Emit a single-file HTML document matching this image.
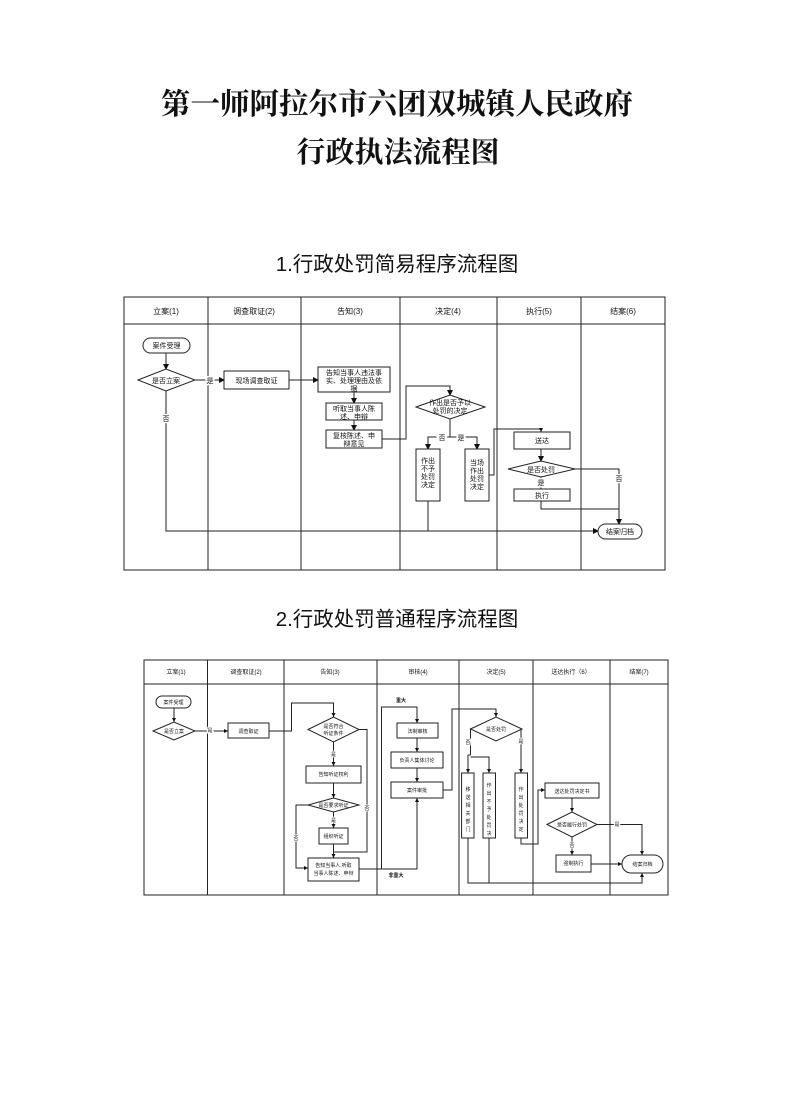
<!DOCTYPE html>
<html><head><meta charset="utf-8"><style>
html,body{margin:0;padding:0;background:#fff;}
svg{display:block;}
text{font-family:"Liberation Sans","Noto Sans CJK SC",sans-serif;fill:#111;}
.t{font-family:"Liberation Serif","Noto Serif CJK SC",serif;font-weight:bold;}
.l{stroke:#222;stroke-width:1;fill:none;}
.b{stroke:#222;stroke-width:1;fill:#fff;}
</style></head><body>
<svg width="794" height="1108" viewBox="0 0 794 1108" xmlns="http://www.w3.org/2000/svg">
<defs>
<marker id="a" markerWidth="6" markerHeight="6" refX="5" refY="3" orient="auto" markerUnits="userSpaceOnUse"><path d="M0,0 L6,3 L0,6 z" fill="#111"/></marker>
<marker id="s" markerWidth="4" markerHeight="4" refX="4" refY="2" orient="auto" markerUnits="userSpaceOnUse"><path d="M0,0 L4,2 L0,4 z" fill="#111"/></marker>
</defs>
<text class="t" x="397" y="114" font-size="29.5" text-anchor="middle">第一师阿拉尔市六团双城镇人民政府</text>
<text class="t" x="398" y="162" font-size="29" text-anchor="middle">行政执法流程图</text>
<text x="397" y="271" font-size="20.5" text-anchor="middle">1.行政处罚简易程序流程图</text>
<text x="397" y="626" font-size="20.5" text-anchor="middle">2.行政处罚普通程序流程图</text>

<!-- Diagram 1 -->
<g font-size="8">
<rect class="l" x="124" y="297" width="541" height="273" stroke-width="1.2"/>
<line class="l" x1="124" y1="324" x2="665" y2="324"/>
<line class="l" x1="208" y1="297" x2="208" y2="570"/>
<line class="l" x1="301" y1="297" x2="301" y2="570"/>
<line class="l" x1="400" y1="297" x2="400" y2="570"/>
<line class="l" x1="497" y1="297" x2="497" y2="570"/>
<line class="l" x1="581" y1="297" x2="581" y2="570"/>
<g text-anchor="middle">
<text x="166" y="314">立案(1)</text><text x="254" y="314">调查取证(2)</text><text x="350" y="314">告知(3)</text>
<text x="448" y="314">决定(4)</text><text x="539" y="314">执行(5)</text><text x="623" y="314">结案(6)</text>
</g>
<rect class="b" x="143" y="338" width="47" height="15" rx="7.5"/><text x="166.5" y="348" text-anchor="middle" font-size="7">案件受理</text>
<line class="l" x1="166" y1="353" x2="166" y2="369" marker-end="url(#a)"/>
<polygon class="b" points="138,380 166,369 195,380 166,391"/><text x="166" y="383" text-anchor="middle" font-size="7">是否立案</text>
<line class="l" x1="195" y1="380" x2="224" y2="380" marker-end="url(#a)"/><text x="210" y="383" text-anchor="middle" font-size="7" style="paint-order:stroke" stroke="#fff" stroke-width="3">是</text>
<rect class="b" x="224" y="371" width="65" height="18"/><text x="256.5" y="383" text-anchor="middle" font-size="7">现场调查取证</text>
<line class="l" x1="289" y1="380" x2="318" y2="380" marker-end="url(#a)"/>
<rect class="b" x="318" y="367" width="72" height="25"/>
<text x="354" y="375" text-anchor="middle" font-size="7">告知当事人违法事</text><text x="354" y="383" text-anchor="middle" font-size="7">实、处理理由及依</text><text x="354" y="391" text-anchor="middle" font-size="7">据</text>
<line class="l" x1="354" y1="392" x2="354" y2="403" marker-end="url(#a)"/>
<rect class="b" x="326" y="403" width="56" height="17"/><text x="354" y="411" text-anchor="middle" font-size="7">听取当事人陈</text><text x="354" y="419" text-anchor="middle" font-size="7">述、申辩</text>
<line class="l" x1="354" y1="420" x2="354" y2="430" marker-end="url(#a)"/>
<rect class="b" x="326" y="430" width="56" height="18"/><text x="354" y="438" text-anchor="middle" font-size="7">复核陈述、申</text><text x="354" y="446" text-anchor="middle" font-size="7">辩意见</text>
<polyline class="l" points="382,439 406,439 406,386 450,386 450,395" marker-end="url(#a)"/>
<polygon class="b" points="416,407 450,395 485,407 450,419"/><text x="450" y="405" text-anchor="middle" font-size="7">作出是否予以</text><text x="450" y="413" text-anchor="middle" font-size="7">处罚的决定</text>
<line class="l" x1="450" y1="419" x2="450" y2="437"/>
<polyline class="l" points="450,437 428,437 428,449" marker-end="url(#a)"/>
<polyline class="l" points="450,437 477,437 477,449" marker-end="url(#a)"/>
<text x="442" y="440" text-anchor="middle" font-size="7" style="paint-order:stroke" stroke="#fff" stroke-width="3">否</text>
<text x="461" y="440" text-anchor="middle" font-size="7" style="paint-order:stroke" stroke="#fff" stroke-width="3">是</text>
<rect class="b" x="416" y="449" width="24" height="52"/>
<g text-anchor="middle" font-size="7"><text x="428" y="463">作出</text><text x="428" y="471">不予</text><text x="428" y="479">处罚</text><text x="428" y="487">决定</text></g>
<rect class="b" x="465" y="449" width="24" height="52"/>
<g text-anchor="middle" font-size="7"><text x="477" y="465">当场</text><text x="477" y="473">作出</text><text x="477" y="481">处罚</text><text x="477" y="489">决定</text></g>
<polyline class="l" points="489,475 494,475 494,429 541,429 541,432" marker-end="url(#s)"/>
<rect class="b" x="514" y="432" width="56" height="17"/><text x="542" y="443" text-anchor="middle" font-size="7">送达</text>
<line class="l" x1="541" y1="449" x2="541" y2="461" marker-end="url(#a)"/>
<polygon class="b" points="508,469 541,461 575,469 541,477"/><text x="541" y="472" text-anchor="middle" font-size="7">是否处罚</text>
<line class="l" x1="541" y1="477" x2="541" y2="489"/><text x="541" y="485" text-anchor="middle" font-size="7" style="paint-order:stroke" stroke="#fff" stroke-width="3">是</text>
<rect class="b" x="514" y="489" width="56" height="12"/><text x="542" y="498" text-anchor="middle" font-size="7">执行</text>
<polyline class="l" points="575,469 619,469 619,524" marker-end="url(#a)"/><text x="619" y="481" text-anchor="middle" font-size="7" style="paint-order:stroke" stroke="#fff" stroke-width="3">否</text>
<polyline class="l" points="541,501 541,509 619,509"/>
<polyline class="l" points="166,391 166,531 598,531" marker-end="url(#a)"/><text x="166" y="421" text-anchor="middle" font-size="7" style="paint-order:stroke" stroke="#fff" stroke-width="3">否</text>
<line class="l" x1="428" y1="501" x2="428" y2="531"/>
<rect class="b" x="598" y="524" width="44" height="15" rx="7.5"/><text x="620" y="534" text-anchor="middle" font-size="7">结案归档</text>
</g>

<!-- Diagram 2 -->
<g font-size="5">
<rect class="l" x="144" y="660" width="524" height="235" stroke-width="1.2"/>
<line class="l" x1="144" y1="684" x2="668" y2="684"/>
<line class="l" x1="207.5" y1="660" x2="207.5" y2="895"/>
<line class="l" x1="284" y1="660" x2="284" y2="895"/>
<line class="l" x1="377" y1="660" x2="377" y2="895"/>
<line class="l" x1="459" y1="660" x2="459" y2="895"/>
<line class="l" x1="533" y1="660" x2="533" y2="895"/>
<line class="l" x1="610" y1="660" x2="610" y2="895"/>
<g text-anchor="middle" font-size="6">
<text x="176" y="674">立案(1)</text><text x="246" y="674">调查取证(2)</text><text x="330" y="674">告知(3)</text>
<text x="418" y="674">审核(4)</text><text x="496" y="674">决定(5)</text><text x="571" y="674">送达执行（6）</text><text x="639" y="674">结案(7)</text>
</g>
<g text-anchor="middle">
<rect class="b" x="156" y="696" width="35" height="12" rx="6"/><text x="173.5" y="704">案件受理</text>
<line class="l" x1="174" y1="708" x2="174" y2="722" marker-end="url(#s)"/>
<polygon class="b" points="153,731 174,722 195,731 174,740"/><text x="174" y="733">是否立案</text>
<line class="l" x1="195" y1="731" x2="228" y2="731" marker-end="url(#s)"/><text x="210" y="732" style="paint-order:stroke" stroke="#fff" stroke-width="2">是</text>
<rect class="b" x="228" y="723" width="41" height="15"/><text x="248.5" y="733">调查取证</text>
<polyline class="l" points="269,731 291.5,731 291.5,703 333.5,703 333.5,717" marker-end="url(#s)"/>
<polygon class="b" points="308,729.5 333.5,717 359,729.5 333.5,742"/><text x="333.5" y="728">是否符合</text><text x="333.5" y="735">听证条件</text>
<line class="l" x1="333.5" y1="742" x2="333.5" y2="766" marker-end="url(#s)"/><text x="333.5" y="756" style="paint-order:stroke" stroke="#fff" stroke-width="2">是</text>
<rect class="b" x="306" y="766" width="55" height="17"/><text x="333.5" y="776">告知听证权利</text>
<line class="l" x1="333.5" y1="783" x2="333.5" y2="798" marker-end="url(#s)"/>
<polygon class="b" points="308,805 333.5,798 359,805 333.5,812"/><text x="333.5" y="807">是否要求听证</text>
<line class="l" x1="333.5" y1="812" x2="333.5" y2="828" marker-end="url(#s)"/><text x="333.5" y="822" style="paint-order:stroke" stroke="#fff" stroke-width="2">是</text>
<rect class="b" x="319" y="828" width="29" height="16"/><text x="333.5" y="838">组织听证</text>
<line class="l" x1="333.5" y1="844" x2="333.5" y2="858" marker-end="url(#s)"/>
<polyline class="l" points="359,729.5 367,729.5 367,852 333.5,852"/><text x="367" y="810" style="paint-order:stroke" stroke="#fff" stroke-width="2">否</text>
<polyline class="l" points="308,805 296,805 296,868 308,868" marker-end="url(#s)"/><text x="296" y="840" style="paint-order:stroke" stroke="#fff" stroke-width="2">否</text>
<rect class="b" x="308" y="858" width="51" height="23"/><text x="333.5" y="867">告知当事人,听取</text><text x="333.5" y="875">当事人陈述、申辩</text>
<polyline class="l" points="359,869 417,869 417,798" marker-end="url(#s)" stroke-width="1.4"/>
<polyline class="l" points="381.5,869 381.5,707 417,707 417,723" marker-end="url(#s)"/>
<text x="401" y="702" font-weight="bold">重大</text><text x="396" y="877" font-weight="bold">非重大</text>
<rect class="b" x="397" y="723" width="41" height="15"/><text x="417.5" y="733">法制审核</text>
<line class="l" x1="417" y1="738" x2="417" y2="752" marker-end="url(#s)"/>
<rect class="b" x="391" y="752" width="52" height="16"/><text x="417" y="762">负责人集体讨论</text>
<line class="l" x1="417" y1="768" x2="417" y2="782" marker-end="url(#s)"/>
<rect class="b" x="391" y="782" width="52" height="16"/><text x="417" y="792">案件审批</text>
<polyline class="l" points="443,790 452,790 452,709 496,709 496,717" marker-end="url(#s)"/>
<polygon class="b" points="470.5,729 496,717 522,729 496,741"/><text x="496" y="731">是否处罚</text>
<polyline class="l" points="470.5,729 470.5,755"/>
<line class="l" x1="468" y1="755" x2="468" y2="773" marker-end="url(#s)"/>
<line class="l" x1="468" y1="755" x2="470.5" y2="755"/>
<polyline class="l" points="470.5,757 489,757 489,773" marker-end="url(#s)"/>
<text x="468" y="744" style="paint-order:stroke" stroke="#fff" stroke-width="2">否</text>
<polyline class="l" points="522,729 521,729 521,773" marker-end="url(#s)"/><text x="521" y="743" style="paint-order:stroke" stroke="#fff" stroke-width="2">是</text>
<rect class="b" x="461.6" y="773" width="12.4" height="65"/>
<g><text x="468" y="791">移</text><text x="468" y="799">送</text><text x="468" y="807">相</text><text x="468" y="815">关</text><text x="468" y="823">部</text><text x="468" y="831">门</text></g>
<rect class="b" x="483" y="773" width="12.5" height="65"/>
<g><text x="489" y="787">作</text><text x="489" y="795">出</text><text x="489" y="803">不</text><text x="489" y="811">予</text><text x="489" y="819">处</text><text x="489" y="827">罚</text><text x="489" y="835">决</text></g>
<rect class="b" x="515" y="773" width="12.5" height="65"/>
<g><text x="521" y="791">作</text><text x="521" y="799">出</text><text x="521" y="807">处</text><text x="521" y="815">罚</text><text x="521" y="823">决</text><text x="521" y="831">定</text></g>
<polyline class="l" points="521,838 521,844 538,844 538,790 545,790" marker-end="url(#s)"/>
<rect class="b" x="545" y="783" width="54" height="15"/><text x="572" y="793">送达处罚决定书</text>
<line class="l" x1="572" y1="798" x2="572" y2="812" marker-end="url(#s)"/>
<polygon class="b" points="547,824.5 572,812 597,824.5 572,837"/><text x="572" y="826.5">是否履行处罚</text>
<polyline class="l" points="597,824.5 642,824.5 642,855" marker-end="url(#s)"/><text x="617" y="826" style="paint-order:stroke" stroke="#fff" stroke-width="2">是</text>
<line class="l" x1="572" y1="837" x2="572" y2="855" marker-end="url(#s)"/><text x="572" y="847" style="paint-order:stroke" stroke="#fff" stroke-width="2">否</text>
<rect class="b" x="556" y="855" width="35" height="17"/><text x="573.5" y="865">强制执行</text>
<line class="l" x1="591" y1="864" x2="622" y2="864" marker-end="url(#s)" stroke-width="1.3"/>
<rect class="b" x="622" y="855" width="41" height="18" rx="9"/><text x="642.5" y="866">结案归档</text>
<polyline class="l" points="468,838 468,883 642,883 642,873" marker-end="url(#s)"/>
<line class="l" x1="489" y1="838" x2="489" y2="883"/>
</g>
</g>
</svg>
</body></html>
